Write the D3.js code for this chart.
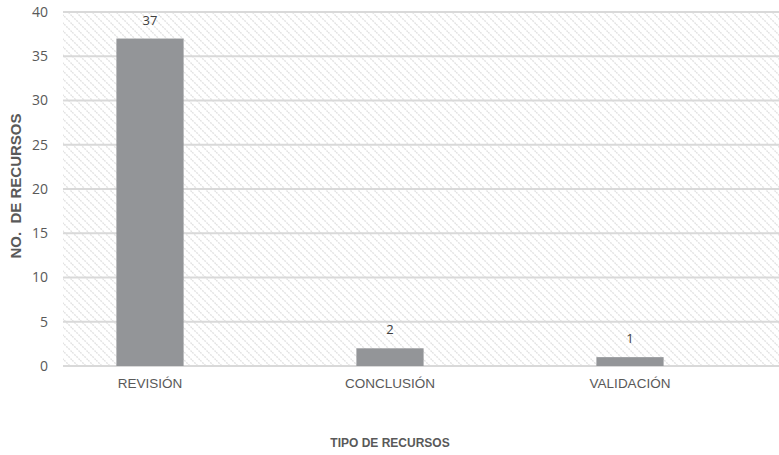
<!DOCTYPE html>
<meta charset="utf-8">
<script src="https://d3js.org/d3.v7.min.js"></script>
<style>
  body { margin: 0; background: #fff; }
</style>
<div id="chart"></div>
<script>

var categories = ["REVISIÓN", "CONCLUSIÓN", "VALIDACIÓN"];
var values = [37, 2, 1];
var yTicks = [0, 5, 10, 15, 20, 25, 30, 35, 40];

var W = 779, H = 455;
var plotLeft = 63, plotRight = 779, plotTop = 12, plotBottom = 366;

var svg = d3.select("#chart").append("svg")
    .attr("width", W)
    .attr("height", H);

// hatch pattern for the plot background
var defs = svg.append("defs");
var pat = defs.append("pattern")
    .attr("id", "hatch")
    .attr("patternUnits", "userSpaceOnUse")
    .attr("width", 8)
    .attr("height", 8);
pat.append("path")
    .attr("d", "M-2,-2 L10,10 M-2,6 L2,10 M6,-2 L10,2")
    .attr("stroke", "#e3e3e3")
    .attr("stroke-width", 1.4)
    .attr("stroke-dasharray", "2,1");

var x = d3.scaleBand()
    .domain(categories)
    .range([30, 750])
    .paddingInner(0.72)
    .paddingOuter(0.36);

var y = d3.scaleLinear()
    .domain([0, 40])
    .range([plotBottom, plotTop]);

svg.append("rect")
    .attr("x", plotLeft)
    .attr("y", plotTop)
    .attr("width", plotRight - plotLeft)
    .attr("height", plotBottom - plotTop)
    .attr("fill", "url(#hatch)");

// gridlines
svg.append("g")
  .selectAll("line")
  .data(yTicks)
  .enter().append("line")
    .attr("x1", plotLeft)
    .attr("x2", plotRight)
    .attr("y1", function(d) { return y(d); })
    .attr("y2", function(d) { return y(d); })
    .attr("stroke", "#d9d9d9")
    .attr("stroke-width", 2);

// y tick labels
svg.append("g")
  .selectAll("text")
  .data(yTicks)
  .enter().append("text")
    .attr("x", 48)
    .attr("y", function(d) { return y(d); })
    .attr("dy", "0.35em")
    .attr("text-anchor", "end")
    .style("font-family", "'Open Sans', sans-serif")
    .style("font-size", "14px")
    .style("fill", "#595959")
    .text(function(d) { return d; });

// bars
svg.append("g")
  .selectAll("rect")
  .data(values)
  .enter().append("rect")
    .attr("x", function(d, i) { return x(categories[i]); })
    .attr("y", function(d) { return y(d); })
    .attr("width", x.bandwidth())
    .attr("height", function(d) { return y(0) - y(d); })
    .attr("fill", "#939598");

// value labels
svg.append("g")
  .selectAll("text")
  .data(values)
  .enter().append("text")
    .attr("x", function(d, i) { return x(categories[i]) + x.bandwidth() / 2; })
    .attr("y", function(d) { return y(d) - 14; })
    .attr("text-anchor", "middle")
    .style("font-family", "'Open Sans', sans-serif")
    .style("font-size", "13px")
    .style("fill", "#404040")
    .text(function(d) { return d; });

// category labels
svg.append("g")
  .selectAll("text")
  .data(categories)
  .enter().append("text")
    .attr("x", function(d) { return x(d) + x.bandwidth() / 2; })
    .attr("y", 388)
    .attr("text-anchor", "middle")
    .style("font-family", "'Liberation Sans', Arial, sans-serif")
    .style("font-size", "13.5px")
    .style("fill", "#595959")
    .text(function(d) { return d; });

// axis titles
svg.append("text")
    .attr("x", 390)
    .attr("y", 447)
    .attr("text-anchor", "middle")
    .style("font-family", "'Liberation Sans', Arial, sans-serif")
    .style("font-size", "12px")
    .style("font-weight", "bold")
    .style("fill", "#595959")
    .text("TIPO DE RECURSOS");

svg.append("text")
    .attr("transform", "translate(21,186) rotate(-90)")
    .attr("text-anchor", "middle")
    .style("font-family", "'Liberation Sans', Arial, sans-serif")
    .style("font-size", "15px")
    .style("font-weight", "bold")
    .style("fill", "#595959")
    .style("white-space", "pre")
    .text("NO.  DE RECURSOS");

</script>
